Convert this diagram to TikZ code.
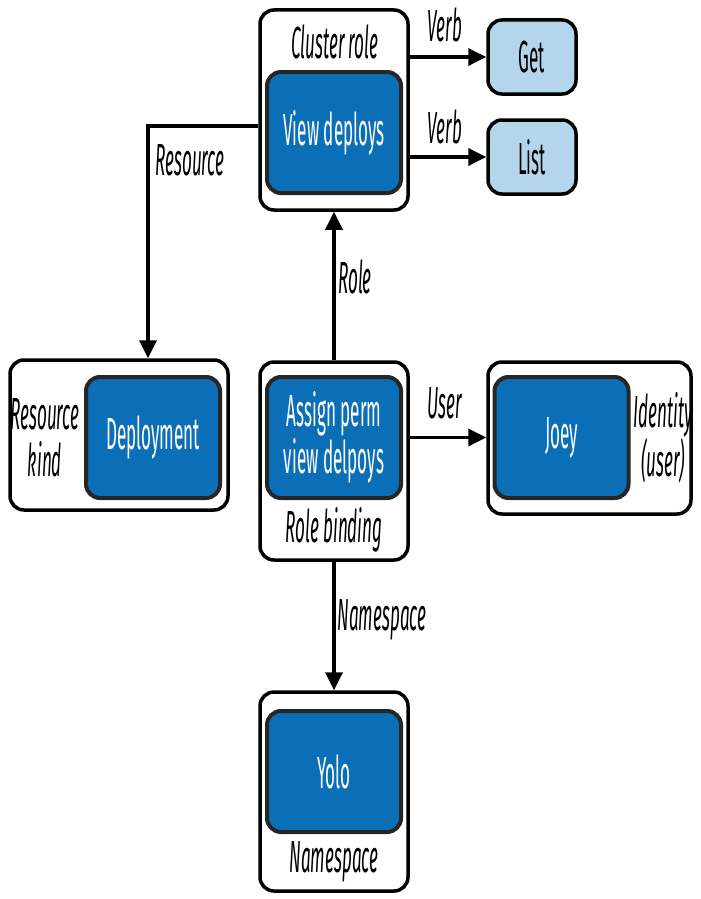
\documentclass[tikz,border=0pt]{standalone}
\usepackage{fontspec}
\setsansfont{Fira Sans}[FakeStretch=0.38]
\usetikzlibrary{arrows.meta,positioning,calc}
\definecolor{kblue}{HTML}{0B6FB8}
\definecolor{klight}{HTML}{B4D5EB}

\begin{document}
\begin{tikzpicture}[x=1pt,y=-1pt,font=\sffamily\fontsize{45}{47}\selectfont,
 outer/.style={draw,line width=3.5pt,rounded corners=14pt,fill=white,inner sep=0pt},
 inner/.style={draw=black!85,line width=4pt,rounded corners=14pt,fill=kblue,text=white,
  minimum width=134pt,minimum height=121pt,align=center,inner sep=0pt},
 verb/.style={draw,line width=3.5pt,rounded corners=14pt,fill=klight,
  minimum width=88pt,minimum height=74pt,inner sep=0pt},
 lbl/.style={font=\sffamily\itshape\fontsize{45}{47}\selectfont,align=center,inner sep=0pt},
 arr/.style={line width=3.5pt,-{Triangle[length=18pt,width=17pt]}}]
\useasboundingbox[fill=white](0,0) rectangle (701,899);
% outer boxes
\node[outer,minimum width=148pt,minimum height=200pt](crole) at (334,110){};
\node[outer,minimum width=218pt,minimum height=150pt](kind) at (119,435){};
\node[outer,minimum width=148pt,minimum height=198pt](rb) at (334,461){};
\node[outer,minimum width=203pt,minimum height=152pt](ident) at (589.5,438){};
\node[outer,minimum width=148pt,minimum height=199pt](ns) at (334,791.5){};
% inner boxes
\node[inner](view) at (334,132.5){View deploys};
\node[inner](deploy) at (153,437.5){Deployment};
\node[inner](assign) at (334,437.5){Assign perm\\view delpoys};
\node[inner](joey) at (561.5,437.5){Joey};
\node[inner](yolo) at (334,771.5){Yolo};
\node[verb](get) at (532,57){Get};
\node[verb](list) at (532,157){List};
% box labels
\node[lbl](crolelbl) at (335,42){Cluster role};
\node[lbl](kindlbl) at (45,438){Resource\\kind};
\node[lbl](rblbl) at (334,530){Role binding};
\node[lbl](identlbl) at (663,438){Identity\\(user)};
\node[lbl](nslbl) at (334,862){Namespace};
% connectors
\coordinate (resturn) at (148,126);
\draw[arr](crole.east |- get.west)--(get.west);
\draw[arr](crole.east |- list.west)--(list.west);
\draw[arr](crole.west |- resturn)--(resturn)--(resturn |- kind.north);
\draw[arr](rb.north)--(crole.south);
\draw[arr](rb.east |- assign)--(ident.west |- assign);
\draw[arr](rb.south)--(ns.north);
% connector labels
\node[lbl](verb1) at (445,25){Verb};
\node[lbl](verb2) at (445,127){Verb};
\node[lbl](reslbl) at (190,160){Resource};
\node[lbl](rolelbl) at (355,277){Role};
\node[lbl](userlbl) at (445,403){User};
\node[lbl](nsedge) at (382,620){Namespace};
\end{tikzpicture}
\end{document}
